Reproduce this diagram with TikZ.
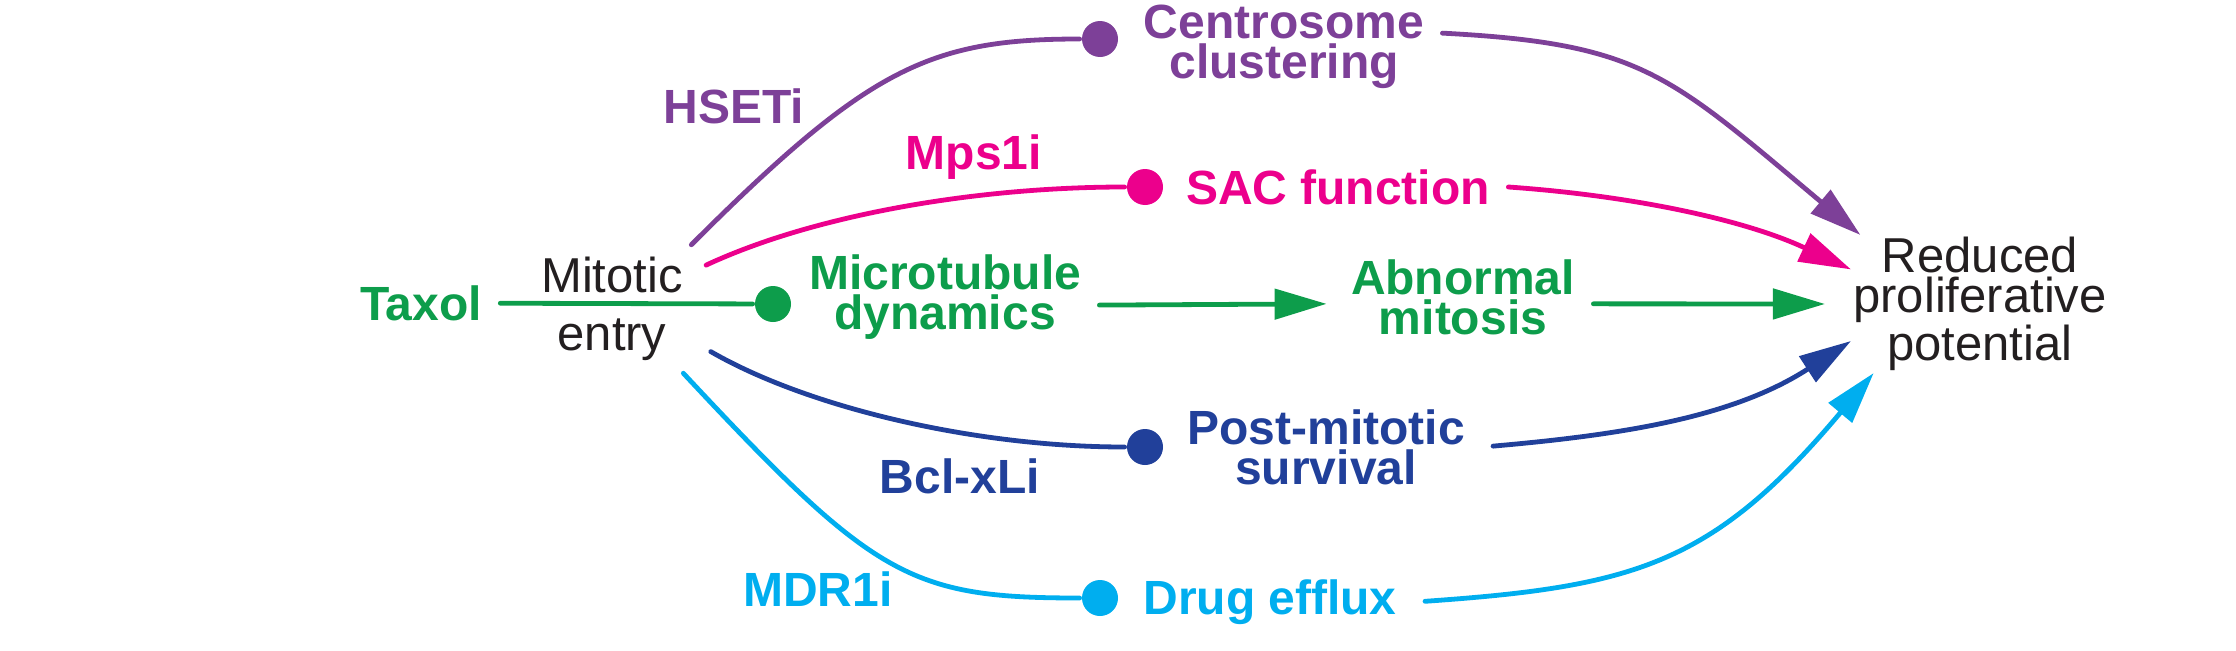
\documentclass[tikz,border=0pt]{standalone}
\usepackage{fontspec}
\setmainfont{Liberation Sans}
\usepackage{tikz}
\usetikzlibrary{positioning, arrows.meta}

\definecolor{hsetpurple}{RGB}{125,64,152}
\definecolor{sacpink}{RGB}{236,0,140}
\definecolor{mtgreen}{RGB}{13,157,75}
\definecolor{bclnavy}{RGB}{33,64,154}
\definecolor{mdrcyan}{RGB}{0,174,239}
\definecolor{textblack}{RGB}{35,31,32}

\begin{document}
\begin{tikzpicture}[%
    ->,
    >={Triangle[length=26pt, width=15pt]}, line width=2.4pt, line cap=round,
    x=0.5pt, y=0.5pt, align=center,
    hubtext/.style={%
      font=\fontsize{24.5}{20}\selectfont,
      text=textblack
    },
    effect/.style={%
      font=\fontsize{24}{20}\selectfont\bfseries,
      inner sep=8pt
    },
    dot/.style={%
      circle,
      fill,
      inner sep=0pt,
      minimum size=18pt
    }
  ]
    \useasboundingbox (0,0) rectangle (2236,650);

    \node[hubtext, inner sep=5pt, font=\fontsize{24.5}{29}\selectfont] (hub) at (612,341) {Mitotic\\entry};

    \node[effect, mtgreen] (taxol) at (421,347) {Taxol};
    \node[dot, mtgreen] (mtdot) at (773,346) {};
    \node[effect, mtgreen, node distance=86pt, yshift=3.5pt] (mt) [right of=mtdot] {Microtubule\\dynamics};
    \node[effect, mtgreen, node distance=259pt] (ab) [right of=mt] {Abnormal\\mitosis};

    \node[hubtext, inner sep=0pt] (red) at (1980,346) {Reduced\\proliferative\\potential};

    \node[dot, hsetpurple] (ccdot) at (1100,611) {};
    \node[effect, hsetpurple, node distance=92pt, yshift=-4pt] (cc) [right of=ccdot] {Centrosome\\clustering};

    \node[dot, sacpink] (sacdot) at (1145,463) {};
    \node[effect, sacpink, node distance=96.5pt] (sac) [right of=sacdot] {SAC function};

    \node[dot, bclnavy] (pmdot) at (1145,203) {};
    \node[effect, bclnavy, node distance=90.5pt] (pm) [right of=pmdot] {Post-mitotic\\survival};

    \node[dot, mdrcyan] (dedot) at (1100,52) {};
    \node[effect, mdrcyan, node distance=85pt, yshift=-2pt] (de) [right of=dedot] {Drug efflux};

    % inhibitors
    \node[effect, hsetpurple] (hseti) at (734,544) {HSETi};
    \node[effect, sacpink] (mps) at (974,493) {Mps1i};
    \node[effect, bclnavy] (bcl) at (960,174) {Bcl-xLi};
    \node[effect, mdrcyan] (mdr) at (818,61) {MDR1i};

    \path (taxol) edge[-, mtgreen] (mtdot)
          (hub.39) edge[-, hsetpurple, out=45, in=180, out distance=125pt, in distance=75pt] (ccdot)
          (hub.25) edge[-, sacpink, shorten <=6pt, out=25, in=180, out distance=65pt, in distance=75pt] (sacdot)
          (hub.-22) edge[-, bclnavy, shorten <=9pt, out=-30, in=180, out distance=65pt, in distance=75pt] (pmdot)
          (hub.-42) edge[-, mdrcyan, out=-47, in=180, out distance=140pt, in distance=85pt] (dedot)

          (mt.-3) edge[mtgreen, shorten >=3pt] (ab.183)
          (ab.-3) edge[mtgreen, shorten >=13pt] (red.west)

          (cc.5) edge[hsetpurple, out=-3, in=140, out distance=100pt, in distance=125pt] (red.150)
          (sac.east) edge[sacpink, out=-4, in=155, out distance=60pt, in distance=60pt] (red.165)
          (pm.east) edge[bclnavy, shorten <=5pt, out=5, in=-147, out distance=70pt, in distance=70pt] (red.196)
          (de.east) edge[mdrcyan, shorten <=5pt, out=4, in=-130, out distance=110pt, in distance=125pt] (red.213)
    ;
\end{tikzpicture}
\end{document}
